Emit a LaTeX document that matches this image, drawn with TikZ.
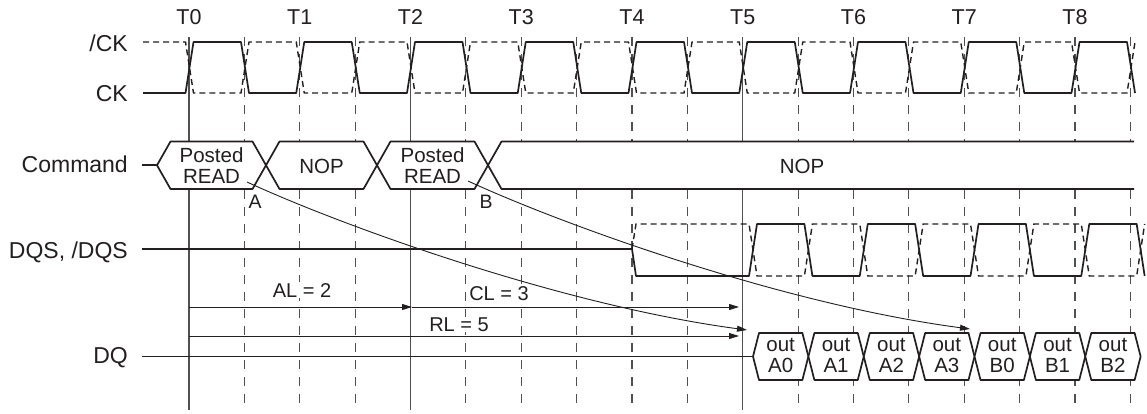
\documentclass[tikz,border=0pt]{standalone}
\usepackage{fontspec}
\setmainfont{Liberation Sans}
\usetikzlibrary{arrows.meta}
\definecolor{sigc}{HTML}{231F20}
\definecolor{gridc}{HTML}{505050}
\definecolor{txtc}{HTML}{231F20}
\begin{document}
\begin{tikzpicture}[x=1pt,y=-1pt,
  sig/.style={draw=sigc, line width=1.7pt, line join=round},
  sigd/.style={draw=sigc, line width=1.4pt, dash pattern=on 6pt off 4pt},
  gridsol/.style={draw=gridc, line width=1.1pt},
  griddash/.style={draw=gridc, line width=1.1pt, dash pattern=on 9pt off 8pt},
  lbl/.style={font=\fontsize{23}{26}\selectfont, text=txtc, anchor=base east, inner sep=0pt},
  tlbl/.style={font=\fontsize{21.5}{24}\selectfont, text=txtc, anchor=base, inner sep=0pt},
  boxtxt/.style={font=\fontsize{20.5}{21}\selectfont, text=txtc, align=center, inner sep=0pt},
  timlbl/.style={font=\fontsize{20}{22}\selectfont, text=txtc, anchor=base, inner sep=0.6pt, fill=white},
  ablbl/.style={font=\fontsize{19.5}{22}\selectfont, text=txtc, anchor=base, inner sep=0.5pt, fill=white},
  tim/.style={draw=sigc, line width=0.9pt, -{Triangle[length=10pt,width=6pt]}},
  curv/.style={draw=sigc, line width=0.9pt, -{Triangle[length=10pt,width=6pt]}},
  cmdbox/.style={sig, fill=white}
]
\fill[white] (0,0) rectangle (1147,414);
\useasboundingbox (0,0) rectangle (1147,414);

% grid lines and time labels
\foreach \k/\st in {0/gridsol,1/griddash,2/gridsol,3/griddash,4/griddash,5/gridsol,6/griddash,7/griddash,8/griddash} {
  \pgfmathsetmacro\tx{189+110.75*\k}
  \pgfmathsetmacro\hx{\tx+55.4}
  \coordinate (gt\k) at (\tx,37);
  \coordinate (gb\k) at (\tx,410);
  \coordinate (ht\k) at (\hx,37);
  \coordinate (hb\k) at (\hx,410);
  \draw[\st] (gt\k) -- (gb\k);
  \draw[griddash] (ht\k) -- (hb\k);
  \node[tlbl] (lT\k) at (\tx,25) {T\k};
}

% signal names
\node[lbl] (nCKb) at (128,51.5) {/CK};
\node[lbl] (nCK) at (128,101.5) {CK};
\node[lbl] (nCmd) at (128,172.7) {Command};
\node[lbl] (nDQS) at (128,258) {DQS, /DQS};
\node[lbl] (nDQ) at (128,363.5) {DQ};

% CK and /CK
\draw[sig] (143,93) \foreach \k in {0,...,8} { -- ({189.5+110.75*\k-4},93) -- ({189.5+110.75*\k+4},42) -- ({245+110.75*\k-4},42) -- ({245+110.75*\k+4},93) };
\draw[sigd] (143,42) \foreach \k in {0,...,8} { -- ({189.5+110.75*\k-4},42) -- ({189.5+110.75*\k+4},93) -- ({245+110.75*\k-4},93) -- ({245+110.75*\k+4},42) };

% DQS and /DQS
\draw[sig] (142,249) -- (632,249) -- (636,276) \foreach \j in {0,...,3} { -- ({753+110.75*\j-4},276) -- ({753+110.75*\j+4},224) -- ({808.4+110.75*\j-4},224) -- ({808.4+110.75*\j+4},276) };
\draw[sigd] (632,249) -- (636,224) \foreach \j in {0,...,3} { -- ({753+110.75*\j-4},224) -- ({753+110.75*\j+4},276) -- ({808.4+110.75*\j-4},276) -- ({808.4+110.75*\j+4},224) };

% Command
\draw[sig] (142,165.25) -- (157,165.25);
\draw[cmdbox] (157,165.25) -- (170.5,141.5) -- (252.5,141.5) -- (266,165.25) -- (252.5,189) -- (170.5,189) -- cycle;
\draw[cmdbox] (266,165.25) -- (279.5,141.5) -- (363.5,141.5) -- (377,165.25) -- (363.5,189) -- (279.5,189) -- cycle;
\draw[cmdbox] (377,165.25) -- (390.5,141.5) -- (474.5,141.5) -- (488,165.25) -- (474.5,189) -- (390.5,189) -- cycle;
\fill[white] (1134,141.5) -- (501.5,141.5) -- (488,165.25) -- (501.5,189) -- (1134,189) -- cycle;
\draw[sig] (1134,141.5) -- (501.5,141.5) -- (488,165.25) -- (501.5,189) -- (1134,189);
\node[boxtxt] (pr1) at (211.5,165.3) {Posted\\READ};
\node[boxtxt, anchor=base] (nop1) at (321.5,173.3) {NOP};
\node[boxtxt] (pr2) at (432.5,165.3) {Posted\\READ};
\node[boxtxt, anchor=base] (nop2) at (802,173) {NOP};
\node[ablbl] (lA) at (255,208.3) {A};
\node[ablbl] (lB) at (486,208.3) {B};

% DQ
\draw[sig] (142,356.5) -- (753,356.5);
\foreach \j/\lab in {0/A0,1/A1,2/A2,3/A3,4/B0,5/B1,6/B2} {
  \pgfmathsetmacro\dl{753+55.375*\j}
  \pgfmathsetmacro\dr{\dl+55.375}
  \draw[cmdbox] (\dl,356.5) -- ({\dl+6},333) -- ({\dr-6},333) -- (\dr,356.5) -- ({\dr-6},380) -- ({\dl+6},380) -- cycle;
  \node[boxtxt] (q\lab) at ({(\dl+\dr)/2},355) {out\\\lab};
}

% latency arrows
\coordinate (al0) at (189,307);
\coordinate (al1) at (412,307);
\coordinate (cl1) at (739,307);
\coordinate (rl0) at (189,336);
\coordinate (rl1) at (739,336);
\draw[tim] (al0) -- (al1);
\draw[tim] (al1) -- (cl1);
\draw[tim] (rl0) -- (rl1);
\node[timlbl] (tAL) at (302,297) {AL = 2};
\node[timlbl] (tCL) at (499,300) {CL = 3};
\node[timlbl] (tRL) at (459,331.5) {RL = 5};

% data curves
\coordinate (cA0) at (247,182);
\coordinate (cA1) at (747,330);
\coordinate (cB0) at (468,181);
\coordinate (cB1) at (970,329);
\draw[curv] (cA0) .. controls (340,225) and (560,305) .. (cA1);
\draw[curv] (cB0) .. controls (561,224) and (781,304) .. (cB1);
\end{tikzpicture}
\end{document}
